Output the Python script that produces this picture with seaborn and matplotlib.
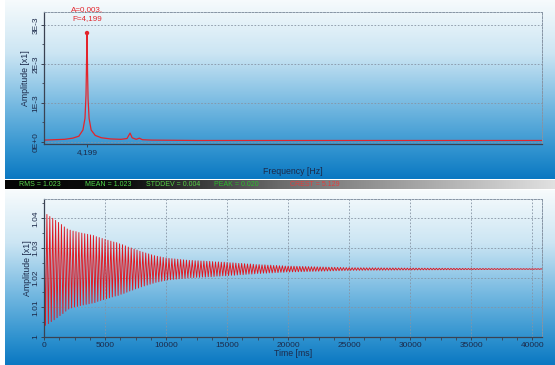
import numpy as np
import pandas as pd
import matplotlib
matplotlib.use("Agg")
import matplotlib.pyplot as plt
import matplotlib.transforms as mtransforms
from matplotlib.colors import LinearSegmentedColormap
from matplotlib.ticker import FixedLocator, MultipleLocator
import seaborn as sns

sns.set_style("white")
plt.rcParams['font.family'] = ['Liberation Sans', 'DejaVu Sans']

# ---------------- data ----------------
# spectrum (upper panel)
spec_freq_hz = [0.0, 1.0, 2.0, 2.8, 3.4, 3.8, 4.0, 4.10, 4.15, 4.18, 4.199,
                4.22, 4.25, 4.30, 4.40, 4.60, 5.0, 5.6, 6.5, 7.5, 8.1, 8.4,
                8.6, 9.0, 9.3, 9.6, 10.5, 15.0, 48.6]
spec_amp = [0.00004, 0.00005, 0.00006, 0.00009, 0.00014, 0.00030, 0.00060,
            0.00120, 0.00200, 0.00260, 0.00279, 0.00250, 0.00180, 0.00110,
            0.00060, 0.00030, 0.00016, 0.00010, 0.00007, 0.00006, 0.00008,
            0.00022, 0.00010, 0.00006, 0.00009, 0.00005, 0.00004, 0.00003,
            0.00003]
peak_freq_hz = 4.199
peak_amp = 0.00279
peak_text = ["A=0,003,", "F=4,199"]
freq_ticks = [4.199]
freq_tick_labels = ["4,199"]
amp_ticks = [0.0, 0.001, 0.002, 0.003]
amp_tick_labels = ["0E+0", "1E-3", "2E-3", "3E-3"]

# time signal (lower panel): one amplitude per oscillation cycle
signal_center = 1.0229
signal_freq_hz = 4.199
cycle_amp = [
    0.0190, 0.0184, 0.0177, 0.0171, 0.0164,
    0.0157, 0.0150, 0.0142, 0.0135,
    0.0131, 0.0128, 0.0126, 0.0123,
    0.0121, 0.0119, 0.0117, 0.0115,
    0.0113, 0.0109, 0.0106, 0.0103, 0.0100,
    0.0097, 0.0094, 0.0091, 0.0089,
    0.0085, 0.0082, 0.0078, 0.0074,
    0.0071, 0.0067, 0.0064, 0.0060,
    0.0057, 0.0054, 0.0051, 0.0048,
    0.0045, 0.0043, 0.0041, 0.0039, 0.0037,
    0.0036, 0.0035, 0.0034, 0.0033, 0.0032, 0.0031, 0.0030, 0.0029,
    0.0029, 0.0028, 0.0028, 0.0027, 0.0027, 0.0026, 0.0026, 0.0025, 0.0024,
    0.0024, 0.0023, 0.0023, 0.0022,
    0.0021, 0.0021, 0.0020, 0.0019, 0.0019, 0.0018, 0.0017, 0.0017, 0.0016,
    0.0015,
    0.0015, 0.0014, 0.0014, 0.0013, 0.0013, 0.0012, 0.0012, 0.0011, 0.0011,
    0.0010,
    0.0010, 0.00097, 0.00095, 0.00092, 0.00089, 0.00087, 0.00084, 0.00082,
    0.00079, 0.00076, 0.00074, 0.00071, 0.00069, 0.00066, 0.00063, 0.00061,
    0.00058, 0.00056, 0.00053, 0.00050, 0.00048, 0.00045,
    0.00044, 0.00044, 0.00043, 0.00042, 0.00042, 0.00041, 0.00040, 0.00040,
    0.00039, 0.00038, 0.00038, 0.00037, 0.00036, 0.00035, 0.00035, 0.00034,
    0.00033, 0.00033, 0.00032, 0.00031, 0.00030,
    0.00030, 0.00029, 0.00029, 0.00028, 0.00028, 0.00027, 0.00027, 0.00026,
    0.00026, 0.00025, 0.00025, 0.00024, 0.00024, 0.00023, 0.00023, 0.00022,
    0.00022, 0.00021, 0.00021, 0.00020, 0.00020,
    0.00020, 0.00019, 0.00019, 0.00019, 0.00018, 0.00018, 0.00017, 0.00017,
    0.00017, 0.00016, 0.00016, 0.00015, 0.00015, 0.00015, 0.00014, 0.00014,
    0.00013, 0.00013, 0.00013, 0.00012, 0.00012, 0.00011, 0.00011, 0.00010,
]
time_ticks = [0, 5000, 10000, 15000, 20000, 25000, 30000, 35000, 40000]
time_tick_labels = ["0", "5000", "10000", "15000", "20000", "25000",
                    "30000", "35000", "40000"]
sig_ticks = [1.0, 1.01, 1.02, 1.03, 1.04]
sig_tick_labels = ["1", "1.01", "1.02", "1.03", "1.04"]

stats_labels = ["RMS = 1.023", "MEAN = 1.023", "STDDEV = 0.004",
                "PEAK = 0.020", "CREST = 5.129"]
stats_colors = ["#5cd84c", "#50d84a", "#58d446", "#2cbc2c", "#e23c3c"]
stats_x_px = [19, 85, 146, 214, 290]

# ---------------- build the signal table ----------------
half_period_ms = 1000.0 / signal_freq_hz / 2.0
sig_vals = []
for a in cycle_amp:
    sig_vals.append(signal_center + a)
    sig_vals.append(signal_center - a)
sig_df = pd.DataFrame({"time_ms": np.arange(len(sig_vals)) * half_period_ms,
                       "value": sig_vals})
spec_df = pd.DataFrame({"freq": spec_freq_hz, "amp": spec_amp})

# ---------------- figure ----------------
W, H = 555, 365
fig = plt.figure(figsize=(W / 100, H / 100), dpi=100)
fig.patch.set_facecolor("white")

bg = fig.add_axes([0, 0, 1, 1], zorder=-10)
bg.set_xlim(0, W)
bg.set_ylim(H, 0)
bg.axis("off")

panel_cmap = LinearSegmentedColormap.from_list(
    "panel", [(0.0, (0.97, 0.985, 0.99)),
              (0.30, (0.80, 0.90, 0.955)),
              (0.60, (0.45, 0.72, 0.88)),
              (0.85, (0.18, 0.57, 0.81)),
              (1.0, (0.04, 0.47, 0.76))])
grad = panel_cmap(np.linspace(0, 1, 256))[:, None, :3]
bg.imshow(grad, extent=[5, W, 179.5, 0], aspect="auto", interpolation="bilinear")
bg.imshow(grad, extent=[5, W, H, 190], aspect="auto", interpolation="bilinear")

bar_cmap = LinearSegmentedColormap.from_list(
    "bar", [(0.0, (0.02, 0.02, 0.02)), (0.22, (0.05, 0.05, 0.05)),
            (0.5, (0.42, 0.42, 0.42)), (1.0, (0.88, 0.88, 0.88))])
bar = bar_cmap(np.linspace(0, 1, 256))[None, :, :3]
bg.imshow(bar, extent=[5, W, 189, 180], aspect="auto", interpolation="bilinear")
for lab, col, xp in zip(stats_labels, stats_colors, stats_x_px):
    bg.text(xp, 184.6, lab, color=col, fontsize=5.0, ha="left", va="center")

text_col = "#1c2a4a"
spine_col = "#3a4252"
grid_col = "#8694a4"


def style_axes(ax):
    ax.set_facecolor("none")
    for s in ["left", "bottom"]:
        ax.spines[s].set_color(spine_col)
        ax.spines[s].set_linewidth(0.9)
    for s in ["top", "right"]:
        ax.spines[s].set_color(grid_col)
        ax.spines[s].set_linewidth(0.7)
        ax.spines[s].set_linestyle((0, (2, 1.5)))
    ax.tick_params(which="major", direction="out", length=2.5, width=0.7,
                   color=spine_col, labelsize=6, labelcolor=text_col, pad=1.0)
    ax.tick_params(which="minor", direction="out", length=1.8, width=0.6,
                   color=spine_col)
    ax.tick_params(axis="y", which="both", left=True, pad=0.6)
    ax.tick_params(axis="x", which="both", bottom=True)


# ---- upper panel: spectrum ----
ax1 = fig.add_axes([44 / W, 1 - 144 / H, 498 / W, 132 / H])
style_axes(ax1)
sns.lineplot(data=spec_df, x="freq", y="amp", ax=ax1, color="#e3242b",
             linewidth=0.9, estimator=None)
sns.scatterplot(x=[peak_freq_hz], y=[peak_amp], ax=ax1, color="#e3242b",
                s=10, edgecolor="none", zorder=5)
ax1.set_xlim(0, 48.6)
ax1.set_ylim(-0.00006, 0.00333)
ax1.xaxis.set_major_locator(FixedLocator(freq_ticks))
ax1.set_xticklabels(freq_tick_labels)
ax1.yaxis.set_major_locator(FixedLocator(amp_ticks))
ax1.set_yticklabels(amp_tick_labels, rotation=90, va="center")
ax1.yaxis.set_minor_locator(MultipleLocator(0.0005))
ax1.yaxis.grid(True, which="major", linestyle=(0, (2, 2)), color=grid_col,
               linewidth=0.6)
ax1.xaxis.grid(False)
ax1.set_xlabel("Frequency [Hz]", fontsize=6.3, color=text_col)
ax1.xaxis.set_label_coords(0.5, (144 - 172) / 132)
ax1.xaxis.label.set_va("center")
ax1.set_ylabel("Amplitude [x1]", fontsize=6.3, color=text_col)
ax1.yaxis.set_label_coords(-18 / 498, 0.5)
ax1.yaxis.label.set_va("center")
trans = mtransforms.blended_transform_factory(ax1.transData, ax1.transAxes)
ax1.text(peak_freq_hz, (144 - 10) / 132, peak_text[0], transform=trans,
         ha="center", va="center", fontsize=5.8, color="#e3242b", clip_on=False)
ax1.text(peak_freq_hz, (144 - 18.5) / 132, peak_text[1], transform=trans,
         ha="center", va="center", fontsize=5.8, color="#e3242b", clip_on=False)

# ---- lower panel: time signal ----
ax2 = fig.add_axes([44 / W, 1 - 337 / H, 498 / W, 138 / H])
style_axes(ax2)
sns.lineplot(data=sig_df, x="time_ms", y="value", ax=ax2, color="#e0161f",
             linewidth=0.65, estimator=None)
ax2.set_xlim(0, 40800)
ax2.set_ylim(1.0, 1.0465)
ax2.xaxis.set_major_locator(FixedLocator(time_ticks))
ax2.set_xticklabels(time_tick_labels)
ax2.xaxis.set_minor_locator(MultipleLocator(1250))
ax2.yaxis.set_major_locator(FixedLocator(sig_ticks))
ax2.set_yticklabels(sig_tick_labels, rotation=90, va="center")
ax2.yaxis.set_minor_locator(MultipleLocator(0.005))
ax2.grid(True, which="major", linestyle=(0, (2, 2)), color=grid_col,
         linewidth=0.6)
ax2.set_xlabel("Time [ms]", fontsize=6.3, color=text_col)
ax2.xaxis.set_label_coords(0.5, (337 - 354) / 138)
ax2.xaxis.label.set_va("center")
ax2.set_ylabel("Amplitude [x1]", fontsize=6.3, color=text_col)
ax2.yaxis.set_label_coords(-17 / 498, 0.5)
ax2.yaxis.label.set_va("center")

fig.savefig("out.png", dpi=100)
